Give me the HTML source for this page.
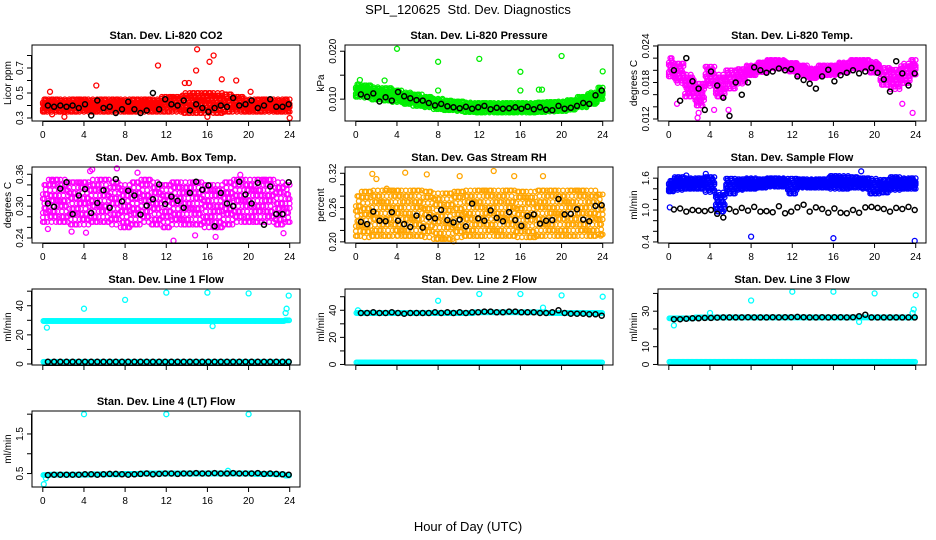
<!DOCTYPE html>
<html><head><meta charset="utf-8"><style>
html,body{margin:0;padding:0;background:#fff;}
svg{display:block;font-family:"Liberation Sans",sans-serif;}
</style></head><body>
<svg id="chart" width="936" height="540" viewBox="0 0 936 540" xmlns="http://www.w3.org/2000/svg">
<text x="468" y="14" text-anchor="middle" font-size="13">SPL_120625&#160; Std. Dev. Diagnostics</text>
<text x="468" y="531" text-anchor="middle" font-size="13">Hour of Day (UTC)</text>
</svg>
<script>
const co2Center=[0.40,0.40,0.40,0.40,0.40,0.40,0.40,0.40,0.40,0.40,0.40,0.40,0.41,0.41,0.42,0.42,0.42,0.42,0.42,0.41,0.40,0.40,0.40,0.40,0.40];
const co2Spread=[0.05,0.05,0.05,0.05,0.05,0.05,0.05,0.05,0.05,0.05,0.05,0.05,0.06,0.06,0.08,0.08,0.08,0.08,0.07,0.06,0.05,0.05,0.05,0.05,0.05];
const co2Black=[0.40,0.39,0.40,0.39,0.40,0.38,0.41,0.32,0.44,0.38,0.39,0.34,0.37,0.43,0.37,0.34,0.36,0.50,0.37,0.45,0.41,0.40,0.44,0.36,0.41,0.38,0.35,0.38,0.40,0.39,0.46,0.40,0.41,0.44,0.38,0.40,0.45,0.39,0.39,0.41];
const co2OutX=[11.2,13.8,14.2,14.9,15,16.2,16.6,17.4,18.8,5.2,0.7,20.2,16,2.1,24,0.9];
const co2OutY=[0.72,0.58,0.58,0.68,0.85,0.75,0.80,0.61,0.60,0.56,0.51,0.51,0.31,0.31,0.30,0.33];

const presCenter=[0.0118,0.0116,0.0112,0.0110,0.0106,0.0102,0.0098,0.0094,0.0090,0.0087,0.0085,0.0083,0.0082,0.0082,0.0082,0.0082,0.0082,0.0082,0.0083,0.0084,0.0085,0.0088,0.0094,0.0102,0.0112];
const presSpread=[0.0013,0.0013,0.0013,0.0013,0.0012,0.0012,0.0012,0.0011,0.0011,0.0010,0.0010,0.0010,0.0010,0.0010,0.0010,0.0010,0.0010,0.0010,0.0010,0.0010,0.0010,0.0010,0.0011,0.0012,0.0012];
const presBlack=[0.0110,0.0105,0.0112,0.0095,0.0104,0.0097,0.0115,0.0106,0.0102,0.0098,0.0097,0.0092,0.0087,0.0090,0.0085,0.0083,0.0081,0.0084,0.0080,0.0083,0.0086,0.0079,0.0082,0.0080,0.0081,0.0083,0.0080,0.0084,0.0079,0.0083,0.0078,0.0077,0.0086,0.0080,0.0082,0.0086,0.0092,0.0090,0.0108,0.0118];
const presOutX=[4,8,12,16,20,24,8,16,0.4,2.8,17.8,18.1];
const presOutY=[0.0205,0.0178,0.0184,0.0157,0.0190,0.0158,0.0118,0.0118,0.0140,0.0139,0.0120,0.0120];

const tempCenter=[0.0205,0.0195,0.0175,0.0160,0.0190,0.0175,0.0185,0.0190,0.0200,0.0205,0.0210,0.0210,0.0205,0.0200,0.0195,0.0200,0.0200,0.0205,0.0210,0.0210,0.0205,0.0190,0.0185,0.0195,0.0205];
const tempSpread=[0.0015,0.0016,0.0018,0.0018,0.0016,0.0018,0.0015,0.0012,0.0008,0.0008,0.0007,0.0007,0.0007,0.0008,0.0008,0.0008,0.0008,0.0008,0.0007,0.0007,0.0009,0.0014,0.0016,0.0016,0.0012];
const tempBlack=[0.0200,0.0150,0.0220,0.0182,0.0170,0.0135,0.0198,0.0175,0.0155,0.0125,0.0180,0.0160,0.0180,0.0205,0.0200,0.0196,0.0198,0.0203,0.0200,0.0202,0.0190,0.0184,0.0178,0.0170,0.0190,0.0201,0.0182,0.0192,0.0196,0.0200,0.0195,0.0198,0.0204,0.0196,0.0185,0.0165,0.0215,0.0195,0.0175,0.0195];
const tempOutX=[2.8,2.9,0.8,4.4,5.8,23.7,22.7];
const tempOutY=[0.0122,0.0130,0.0145,0.0135,0.0135,0.0130,0.0145];

const ambCenter=[0.305,0.310,0.310,0.305,0.305,0.310,0.310,0.305,0.300,0.305,0.310,0.305,0.300,0.305,0.305,0.305,0.300,0.300,0.305,0.310,0.310,0.310,0.310,0.305,0.305];
const ambSpread=[0.035,0.040,0.040,0.040,0.040,0.040,0.040,0.040,0.040,0.040,0.040,0.040,0.040,0.040,0.040,0.040,0.040,0.040,0.040,0.040,0.040,0.040,0.040,0.040,0.035];
const ambBlack=[0.305,0.299,0.333,0.345,0.285,0.320,0.332,0.287,0.306,0.330,0.297,0.351,0.309,0.329,0.320,0.284,0.301,0.313,0.341,0.304,0.318,0.310,0.297,0.325,0.346,0.331,0.339,0.262,0.325,0.305,0.300,0.346,0.322,0.305,0.344,0.265,0.337,0.285,0.285,0.345];
const ambOutX=[0.5,1.0,4.6,4.8,7.2,9.2,12.7,14.8,16.8,19.2,21.5,2.8,23.4,4.2];
const ambOutY=[0.257,0.347,0.366,0.369,0.371,0.363,0.235,0.245,0.242,0.359,0.347,0.252,0.249,0.250];

const rhCenter=[0.245,0.248,0.250,0.250,0.250,0.250,0.250,0.248,0.245,0.245,0.248,0.250,0.250,0.250,0.250,0.250,0.248,0.248,0.250,0.250,0.250,0.250,0.250,0.250,0.248];
const rhSpread=[0.035,0.040,0.040,0.040,0.040,0.040,0.040,0.040,0.040,0.040,0.040,0.040,0.040,0.040,0.040,0.040,0.040,0.040,0.040,0.040,0.040,0.040,0.040,0.040,0.035];
const rhBlack=[0.235,0.231,0.253,0.237,0.236,0.252,0.237,0.231,0.226,0.246,0.225,0.243,0.241,0.256,0.238,0.234,0.239,0.227,0.267,0.241,0.237,0.255,0.242,0.236,0.252,0.238,0.228,0.245,0.248,0.232,0.237,0.238,0.275,0.248,0.249,0.257,0.239,0.236,0.263,0.264];
const rhOutX=[1.6,4.8,6.9,10.1,13.4,15.4,18.2,2.0,23.8,9.5,4.1,3.0];
const rhOutY=[0.319,0.321,0.318,0.315,0.324,0.315,0.315,0.310,0.211,0.201,0.211,0.293];

const flowCenter=[1.45,1.50,1.50,1.50,1.48,1.15,1.45,1.48,1.50,1.50,1.52,1.52,1.45,1.50,1.50,1.50,1.52,1.52,1.52,1.50,1.45,1.45,1.50,1.50,1.50];
const flowSpread=[0.10,0.12,0.10,0.10,0.14,0.18,0.14,0.10,0.10,0.08,0.08,0.08,0.14,0.08,0.08,0.08,0.12,0.12,0.10,0.10,0.14,0.12,0.12,0.10,0.10];
const flowBlack=[1.01,1.03,0.97,1.00,0.99,0.98,1.00,0.93,0.86,1.02,0.97,1.04,0.99,1.06,0.97,0.98,0.96,1.07,0.94,0.97,1.05,1.10,0.97,1.05,1.02,0.95,1.03,0.95,0.94,1.00,0.95,1.05,1.06,1.04,1.02,0.97,1.04,1.02,1.06,1.00];
const flowOutX=[8,16,23.9,0.1,3.6,1.7,18.7];
const flowOutY=[0.50,0.47,0.42,1.05,1.68,1.65,1.73];

const l1Center=[29.5,29.5,29.5,29.5,29.5,29.5,29.5,29.5,29.5,29.5,29.5,29.5,29.5,29.5,29.5,29.5,29.5,29.5,29.5,29.5,29.5,29.5,29.5,29.5,30];
const l1Black=[1.5,1.5,1.5,1.5,1.5,1.5,1.5,1.5,1.5,1.5,1.5,1.5,1.5,1.5,1.5,1.5,1.5,1.5,1.5,1.5,1.5,1.5,1.5,1.5,1.5,1.5,1.5,1.5,1.5,1.5,1.5,1.5,1.5,1.5,1.5,1.5,1.5,1.5,1.5,1.5];
const l1OutX=[4,8,12,16,20,23.9,23.7,0.4,23.6,16.5];
const l1OutY=[38,44,49,49,48.5,47,38,25,35,26];

const l2Center=[38,38,38,38,38,38,38,38,38,38,38,38,38.5,38.5,38.5,38.5,38.5,38.5,38.5,38,38,38,38,38,38];
const l2Black=[38,38,38.5,38,38,38.5,38,37.5,38,38,38,38,38.5,38,38.5,38,38.5,38,38.5,38.5,39,39,38.5,38.5,39,39,38.5,38.5,38.5,38,38,38.5,40,38,37.5,37.5,37.5,37,37,36];
const l2OutX=[8,12,16,20,24,0.2,18.2];
const l2OutY=[47,52,52,51,50,40,42];

const l3Center=[26,26,26,26.5,26.5,26.5,26.5,26.5,26.5,26.5,26.5,26.5,26.5,26.5,26.5,26.5,26.5,26.5,26.5,26.5,26.5,26.5,26.5,26.5,26.5];
const l3Black=[25.5,25.5,25.8,26,26,26.2,26.2,26.4,26.5,26.5,26.5,26.5,26.6,26.5,26.5,26.5,26.6,26.5,26.6,26.6,26.8,26.6,26.5,26.5,26.6,26.5,26.6,26.6,26.5,26.6,27.2,28.0,26.5,26.5,26.5,26.5,26.5,26.5,26.5,26.5];
const l3OutX=[4,8,12,16,20,24,0.5,23.8,23.7,18.5];
const l3OutY=[29,36,41,41,40,39,22,31,29,24];

const l4Center=[0.46,0.47,0.47,0.47,0.47,0.48,0.48,0.48,0.49,0.49,0.50,0.50,0.50,0.50,0.50,0.50,0.50,0.50,0.50,0.50,0.50,0.49,0.49,0.48,0.45];
const l4Black=[0.46,0.47,0.47,0.47,0.47,0.47,0.48,0.48,0.47,0.48,0.49,0.49,0.48,0.47,0.48,0.49,0.50,0.48,0.49,0.50,0.50,0.49,0.50,0.50,0.51,0.50,0.50,0.51,0.50,0.50,0.51,0.50,0.50,0.50,0.51,0.49,0.50,0.49,0.48,0.47];
const l4OutX=[4,12,20,0.1,0.3,18];
const l4OutY=[2.0,2.0,2.0,0.23,0.38,0.57];

const blackTimes=[];for(let i=0;i<40;i++)blackTimes.push(+(0.5+i*0.6).toFixed(2));

const NS='http://www.w3.org/2000/svg';
const svg=document.getElementById('chart');
function mk(tag,attrs,parent){const e=document.createElementNS(NS,tag);for(const k in attrs)e.setAttribute(k,attrs[k]);(parent||svg).appendChild(e);return e;}

const colX=[32,345,658], rowY=[45,167,289,411], W=268, H=76;
const XMIN=-1.05, XMAX=25.0;

function panel(p){
  const x0=colX[p.col], y0=rowY[p.row];
  const g=mk('g',{});
  
  
  const sx=v=>x0+(v-XMIN)/(XMAX-XMIN)*W;
  const sy=v=>y0+H-(v-p.ylim[0])/(p.ylim[1]-p.ylim[0])*H;
  const t=mk('text',{x:x0+W/2,y:y0-6,'text-anchor':'middle','font-size':'11','font-weight':'bold'},g);
  t.textContent=p.title;
  
  
  const cg=mk('g',{fill:'none',stroke:p.color,'stroke-width':'1.3'},g);
  
  
  p.clouds.forEach(c=>{
    for(let h=0;h<c.center.length;h++){
      const nSub=c.spread?7:8;
      for(let j=0;j<nSub;j++){
        const tt=h-0.5+(j+0.5)/nSub;
        if(tt<0||tt>24)continue;
        const nOff=c.spread?5:1;
        for(let k=0;k<nOff;k++){
          const o=c.spread?(((j*3+k*5+h*2)%9)/4-1):0;
          const v=c.center[h]+o*(c.spread?c.spread[h]:0);
          const cx=sx(tt), cy=sy(v);
          if(cy<y0||cy>y0+H)continue;
          mk('circle',{cx:cx.toFixed(1),cy:cy.toFixed(1),r:'2.3'},cg);
        }
      }
    }
  });
  p.outX.forEach((ox,i)=>{
    const m=mk('circle',{cx:sx(ox).toFixed(1),cy:sy(p.outY[i]).toFixed(1),r:'2.5'},cg);
    
    
  });
  const bg=mk('g',{fill:'none',stroke:'#000','stroke-width':'1.5'},g);
  
  
  p.black.forEach((v,i)=>{
    const m=mk('circle',{cx:sx(blackTimes[i]).toFixed(1),cy:sy(v).toFixed(1),r:'2.5'},bg);
    
    
  });
  const b=mk('rect',{x:x0,y:y0,width:W,height:H,fill:'none',stroke:'#000','stroke-width':'1'},g);
  
  
  const xa=mk('g',{},g);
  
  
  mk('line',{x1:sx(0),x2:sx(24),y1:y0+H+0.5,y2:y0+H+0.5,stroke:'#000'},xa);
  [0,4,8,12,16,20,24].forEach(v=>{
    mk('line',{x1:sx(v),x2:sx(v),y1:y0+H,y2:y0+H+5,stroke:'#000'},xa);
    if(p.xlabels){const l=mk('text',{x:sx(v),y:y0+H+17,'text-anchor':'middle','font-size':'10'},xa);l.textContent=v;}
  });
  const ya=mk('g',{},g);
  
  
  const t0=sy(p.ticks[0]), t1=sy(p.ticks[p.ticks.length-1]);
  mk('line',{x1:x0-0.5,x2:x0-0.5,y1:t0,y2:t1,stroke:'#000'},ya);
  p.ticks.forEach(v=>{
    const y=sy(v);
    mk('line',{x1:x0-5,x2:x0,y1:y,y2:y,stroke:'#000'},ya);
    if(p.labels.includes(v)){
      const l=mk('text',{x:x0-9,y:y,'text-anchor':'middle','font-size':'10',transform:`rotate(-90 ${x0-9} ${y})`},ya);
      l.textContent=p.fmt(v);
    }
  });
  const yl=mk('text',{x:x0-21,y:y0+H/2,'text-anchor':'middle','font-size':'10',transform:`rotate(-90 ${x0-21} ${y0+H/2})`},ya);
  yl.textContent=p.ylab;
  
  
}
const f1=v=>v.toFixed(1), f3=v=>v.toFixed(3), f2=v=>v.toFixed(2), f0=v=>String(v);
const cy1=[];for(let i=0;i<25;i++)cy1.push(1.5);
const panels=[
 {name:'panel-co2',col:0,row:0,title:'Stan. Dev. Li-820 CO2',ylab:'Licor ppm',color:'#ff0000',ylim:[0.276,0.884],ticks:[0.3,0.4,0.5,0.6,0.7,0.8],labels:[0.3,0.5,0.7],fmt:f1,clouds:[{center:co2Center,spread:co2Spread}],black:co2Black,outX:co2OutX,outY:co2OutY,xlabels:true},
 {name:'panel-pressure',col:1,row:0,title:'Stan. Dev. Li-820 Pressure',ylab:'kPa',color:'#00ee00',ylim:[0.00544,0.0213],ticks:[0.010,0.015,0.020],labels:[0.010,0.020],fmt:f3,clouds:[{center:presCenter,spread:presSpread}],black:presBlack,outX:presOutX,outY:presOutY,xlabels:true},
 {name:'panel-li820-temp',col:2,row:0,title:'Stan. Dev. Li-820 Temp.',ylab:'degrees C',color:'#ff00ff',ylim:[0.01167,0.02416],ticks:[0.012,0.014,0.016,0.018,0.020,0.022,0.024],labels:[0.012,0.018,0.024],fmt:f3,clouds:[{center:tempCenter,spread:tempSpread}],black:tempBlack,outX:tempOutX,outY:tempOutY,xlabels:true},
 {name:'panel-amb-box-temp',col:0,row:1,title:'Stan. Dev. Amb. Box Temp.',ylab:'degrees C',color:'#ff00ff',ylim:[0.2306,0.3737],ticks:[0.24,0.26,0.28,0.30,0.32,0.34,0.36],labels:[0.24,0.30,0.36],fmt:f2,clouds:[{center:ambCenter,spread:ambSpread}],black:ambBlack,outX:ambOutX,outY:ambOutY,xlabels:true},
 {name:'panel-gas-stream-rh',col:1,row:1,title:'Stan. Dev. Gas Stream RH',ylab:'percent',color:'#ffa500',ylim:[0.198,0.331],ticks:[0.20,0.22,0.24,0.26,0.28,0.30,0.32],labels:[0.20,0.26,0.32],fmt:f2,clouds:[{center:rhCenter,spread:rhSpread}],black:rhBlack,outX:rhOutX,outY:rhOutY,xlabels:true},
 {name:'panel-sample-flow',col:2,row:1,title:'Stan. Dev. Sample Flow',ylab:'ml/min',color:'#0000ff',ylim:[0.38,1.81],ticks:[0.4,0.6,0.8,1.0,1.2,1.4,1.6],labels:[0.4,1.0,1.6],fmt:f1,clouds:[{center:flowCenter,spread:flowSpread}],black:flowBlack,outX:flowOutX,outY:flowOutY,xlabels:true},
 {name:'panel-line1-flow',col:0,row:2,title:'Stan. Dev. Line 1 Flow',ylab:'ml/min',color:'#00ffff',ylim:[-0.7,51.5],ticks:[0,10,20,30,40,50],labels:[0,20,40],fmt:f0,clouds:[{center:l1Center,spread:null},{center:cy1,spread:null}],black:l1Black,outX:l1OutX,outY:l1OutY,xlabels:false},
 {name:'panel-line2-flow',col:1,row:2,title:'Stan. Dev. Line 2 Flow',ylab:'ml/min',color:'#00ffff',ylim:[-0.4,55.7],ticks:[0,10,20,30,40,50],labels:[0,20,40],fmt:f0,clouds:[{center:l2Center,spread:null},{center:cy1,spread:null}],black:l2Black,outX:l2OutX,outY:l2OutY,xlabels:false},
 {name:'panel-line3-flow',col:2,row:2,title:'Stan. Dev. Line 3 Flow',ylab:'ml/min',color:'#00ffff',ylim:[-0.3,42.5],ticks:[0,10,20,30,40],labels:[0,10,30],fmt:f0,clouds:[{center:l3Center,spread:null},{center:cy1,spread:null}],black:l3Black,outX:l3OutX,outY:l3OutY,xlabels:false},
 {name:'panel-line4-flow',col:0,row:3,title:'Stan. Dev. Line 4 (LT) Flow',ylab:'ml/min',color:'#00ffff',ylim:[0.16,2.08],ticks:[0.5,1.0,1.5,2.0],labels:[0.5,1.5],fmt:f1,clouds:[{center:l4Center,spread:null}],black:l4Black,outX:l4OutX,outY:l4OutY,xlabels:true}
];
panels.forEach(panel);
</script>
</body></html>
